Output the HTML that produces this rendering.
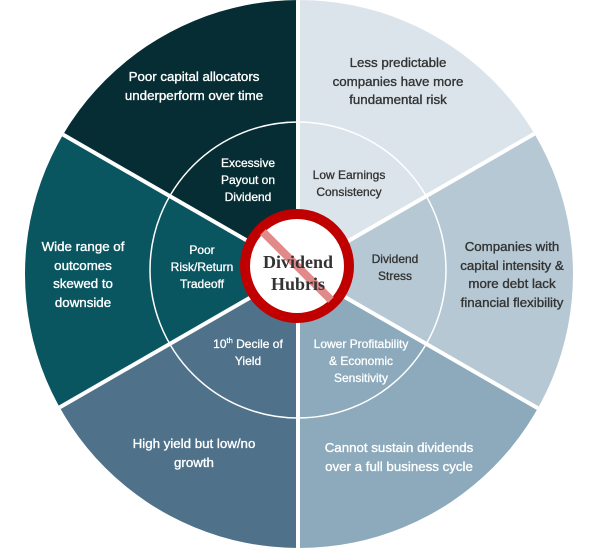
<!DOCTYPE html>
<html><head><meta charset="utf-8"><style>
html,body{margin:0;padding:0;background:#fff;width:601px;height:551px;overflow:hidden;}
#w{position:relative;width:601px;height:551px;overflow:hidden;}
svg{display:block;position:absolute;left:0;top:0;}
.t{position:absolute;width:180px;margin-left:-90px;text-align:center;white-space:nowrap;font-family:"Liberation Sans",sans-serif;z-index:5;}
.o{font-size:13.3px;line-height:18.5px;-webkit-text-stroke:0.35px currentColor;}
.i{font-size:12px;line-height:16.8px;-webkit-text-stroke:0.3px currentColor;}
.wt{color:#fff;}
.dk{color:#333;}
.c{font-family:"Liberation Serif",serif;font-weight:bold;font-size:18px;line-height:22px;color:#333;}
sup{font-size:7.5px;line-height:0;}
</style></head><body><div id="w">
<svg width="601" height="551" viewBox="0 0 601 551" xmlns="http://www.w3.org/2000/svg">
<defs><clipPath id="c"><circle cx="299" cy="274" r="274"/></clipPath></defs>
<g clip-path="url(#c)">
 <polygon points="298,270 298,-300 -200,-17" fill="#062d33"/>
 <polygon points="298,270 -200,-17 -200,557" fill="#0a5660"/>
 <polygon points="298,270 -200,557 298,900" fill="#4f7189"/>
 <polygon points="298,270 298,900 796,557" fill="#8caabc"/>
 <polygon points="298,270 796,557 796,-17" fill="#b6c8d4"/>
 <polygon points="298,270 796,-17 298,-300" fill="#dbe4eb"/>
 <g stroke="#fff" stroke-width="4">
  <line x1="298" y1="270" x2="298" y2="-10"/>
  <line x1="298" y1="270" x2="298" y2="560"/>
  <line x1="298" y1="270" x2="-200" y2="-17"/>
  <line x1="298" y1="270" x2="-200" y2="557"/>
  <line x1="298" y1="270" x2="796" y2="-17"/>
  <line x1="298" y1="270" x2="796" y2="557"/>
 </g>
</g>
<circle cx="298" cy="270" r="148" fill="none" stroke="#fff" stroke-width="1.5"/>
<circle cx="297" cy="266" r="52" fill="#fff" stroke="#c00000" stroke-width="10"/>
<line x1="263" y1="232" x2="331" y2="300" stroke="#e08a8a" stroke-width="8"/>
</svg>

<div class="t c" style="left:298px;top:251px">Dividend<br>Hubris</div>

<div class="t o wt" style="left:194px;top:68px">Poor capital allocators<br>underperform over time</div>
<div class="t o dk" style="left:398px;top:54px">Less predictable<br>companies have more<br>fundamental risk</div>
<div class="t o wt" style="left:83px;top:238px">Wide range of<br>outcomes<br>skewed to<br>downside</div>
<div class="t o dk" style="left:512px;top:238px">Companies with<br>capital intensity &amp;<br>more debt lack<br>financial flexibility</div>
<div class="t o wt" style="left:194px;top:435px">High yield but low/no<br>growth</div>
<div class="t o wt" style="left:399px;top:439px">Cannot sustain dividends<br>over a full business cycle</div>

<div class="t i wt" style="left:248px;top:155px">Excessive<br>Payout on<br>Dividend</div>
<div class="t i dk" style="left:349px;top:167px">Low Earnings<br>Consistency</div>
<div class="t i wt" style="left:202px;top:242px">Poor<br>Risk/Return<br>Tradeoff</div>
<div class="t i dk" style="left:395px;top:251px">Dividend<br>Stress</div>
<div class="t i wt" style="left:248px;top:336px">10<sup>th</sup> Decile of<br>Yield</div>
<div class="t i wt" style="left:361px;top:336px">Lower Profitability<br>&amp; Economic<br>Sensitivity</div>
</div></body></html>
